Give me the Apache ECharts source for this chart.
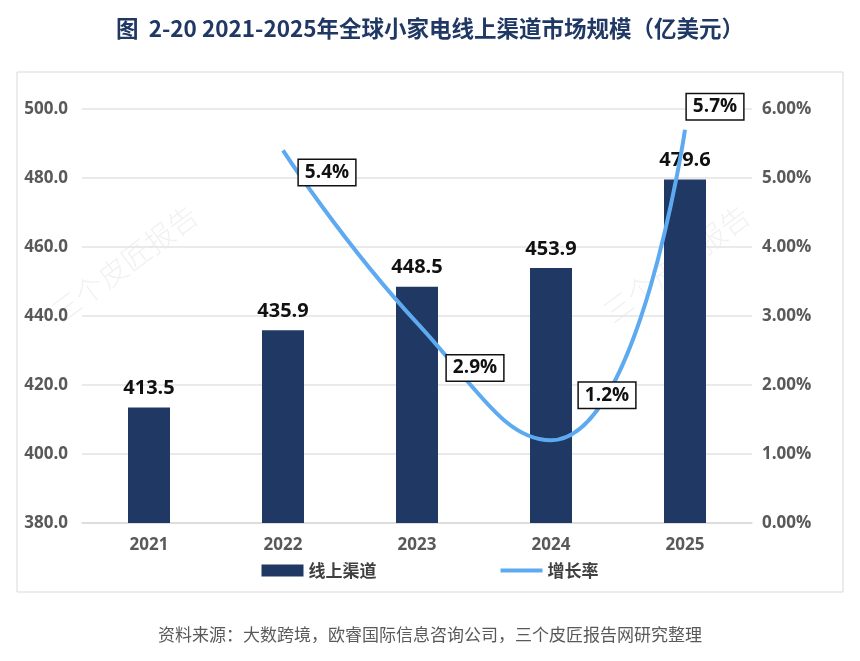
<!DOCTYPE html>
<html>
<head>
<meta charset="utf-8">
<style>
  html, body { margin: 0; padding: 0; background: #fff; }
  #main { width: 860px; height: 661px; }
</style>
<script src="https://cdn.jsdelivr.net/npm/echarts@6/dist/echarts.min.js"></script>
</head>
<body>
<div id="main"></div>
<script>
// 年份
const years = ['2021', '2022', '2023', '2024', '2025'];
// 线上渠道市场规模（亿美元）
const onlineSales = [413.5, 435.9, 448.5, 453.9, 479.6];
// 增长率（%），2021年无数据
const growthRate = [null, 5.4, 2.9, 1.2, 5.7];
// 左右轴刻度
const leftTicks = { min: 380, max: 500, step: 20 };
const rightTicks = { min: 0, max: 6, step: 1 };

const FONT = "'Open Sans', 'Noto Sans CJK SC', sans-serif";
const CJK = "'Noto Sans CJK SC', sans-serif";
const NAVY = '#1f3864';
const BLUE = '#5eaaf0';

// 增长率标签偏移（手动避让曲线）
const rateLabelOffset = [null, [44, 22], [58, 45], [56, -45], [30, -23]];

// 水印
const watermark = (x, y) => ({
  type: 'text', x: x, y: y, rotation: 0.64, z: 0, silent: true,
  style: {
    text: '三个皮匠报告', x: 0, y: 0, textBaseline: 'bottom',
    fontSize: 29, fontWeight: 300, fill: 'rgba(0,0,0,0.06)', fontFamily: CJK
  }
});

const chartDom = document.getElementById('main');
const myChart = echarts.init(chartDom);

const option = {
  animation: false,
  textStyle: { fontFamily: FONT },
  title: {
    text: '图  2-20 2021-2025年全球小家电线上渠道市场规模（亿美元）',
    left: 'center',
    top: 12,
    textStyle: { fontSize: 22.5, fontWeight: 'bold', color: NAVY, fontFamily: CJK }
  },
  graphic: [
    {
      type: 'rect',
      shape: { x: 17, y: 72, width: 826, height: 520 },
      style: { fill: 'none', stroke: '#d9d9d9', lineWidth: 1 },
      z: -1
    },
    watermark(46, 304),
    watermark(598, 304),
    {
      type: 'text', left: 'center', top: 626,
      style: {
        text: '资料来源：大数跨境，欧睿国际信息咨询公司，三个皮匠报告网研究整理',
        fontSize: 17, fill: '#595959', fontFamily: CJK
      }
    }
  ],
  legend: {
    bottom: 77,
    left: 'center',
    itemGap: 122,
    itemWidth: 42,
    itemHeight: 12,
    textStyle: { fontSize: 17, color: '#404040', fontWeight: 'bold', fontFamily: CJK },
    data: [
      { name: '线上渠道', icon: 'rect' },
      { name: '增长率', itemStyle: { color: 'rgba(0,0,0,0)' }, lineStyle: { width: 4, color: BLUE } }
    ]
  },
  grid: { left: 82, right: 108, top: 109, bottom: 138 },
  xAxis: {
    type: 'category',
    data: years,
    axisTick: { show: false },
    axisLine: { lineStyle: { color: '#d9d9d9', width: 1.5 } },
    axisLabel: { fontSize: 17, fontWeight: 'bold', color: '#595959', margin: 14 }
  },
  yAxis: [
    {
      type: 'value',
      min: leftTicks.min, max: leftTicks.max, interval: leftTicks.step,
      axisLine: { show: false },
      axisTick: { show: false },
      splitLine: { lineStyle: { color: '#e3e3e3', width: 1.5 } },
      axisLabel: { fontSize: 17, fontWeight: 'bold', color: '#595959', margin: 14,
        formatter: v => v.toFixed(1) }
    },
    {
      type: 'value',
      min: rightTicks.min, max: rightTicks.max, interval: rightTicks.step,
      axisLine: { show: false },
      axisTick: { show: false },
      splitLine: { show: false },
      axisLabel: { fontSize: 17, fontWeight: 'bold', color: '#595959', margin: 10,
        formatter: v => v.toFixed(2) + '%' }
    }
  ],
  series: [
    {
      name: '线上渠道',
      type: 'bar',
      data: onlineSales,
      barWidth: 42,
      itemStyle: { color: NAVY },
      label: {
        show: true, position: 'top', distance: 9,
        fontSize: 20, fontWeight: 'bold', color: '#111',
        formatter: p => p.value.toFixed(1)
      }
    },
    {
      name: '增长率',
      type: 'line',
      yAxisIndex: 1,
      smooth: 0.5,
      symbol: 'circle',
      symbolSize: 2,
      showSymbol: true,
      connectNulls: false,
      lineStyle: { color: BLUE, width: 4 },
      itemStyle: { color: 'rgba(0,0,0,0)' },
      z: 5,
      data: growthRate.map((v, i) => ({
        value: v,
        label: rateLabelOffset[i] ? { offset: rateLabelOffset[i] } : undefined
      })),
      label: {
        show: true,
        position: 'inside',
        fontSize: 19, fontWeight: 'bold', color: '#111',
        backgroundColor: '#fff',
        borderColor: '#111', borderWidth: 1.5,
        padding: [4, 6, 2, 6],
        formatter: p => p.value == null ? '' : p.value.toFixed(1) + '%'
      }
    }
  ]
};

myChart.setOption(option);
</script>
</body>
</html>
